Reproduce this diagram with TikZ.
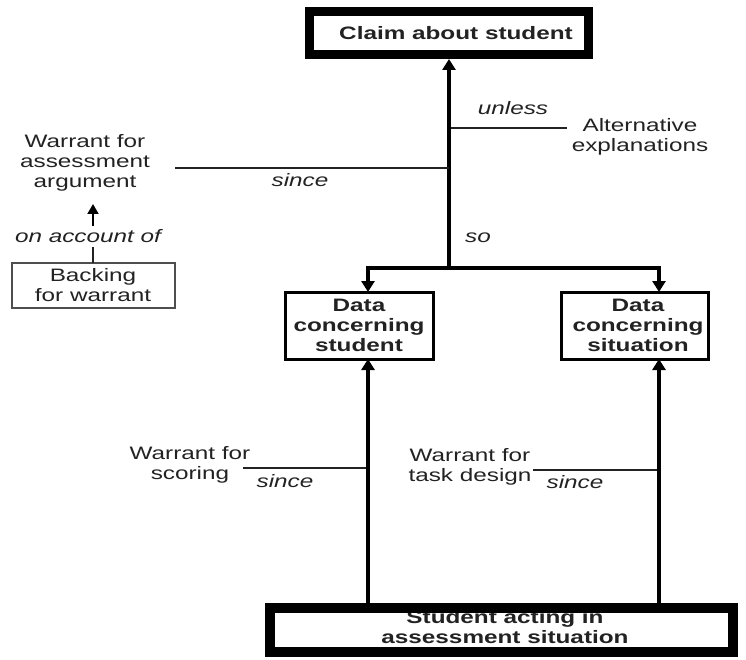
\documentclass[tikz,border=0pt]{standalone}
\usepackage{fontspec}
\setmainfont[FakeStretch=1.35]{Liberation Sans}
\usetikzlibrary{arrows.meta}
\definecolor{ink}{HTML}{222222}
\tikzset{
  txt/.style={text=ink, font=\fontsize{18}{20}\selectfont, align=center, inner sep=0pt},
  btxt/.style={txt, font=\fontsize{18}{20}\selectfont\bfseries},
  itxt/.style={txt, font=\fontsize{18}{20}\selectfont\itshape},
  heavybox/.style={draw=black, line width=9pt, fill=white},
  databox/.style={draw=black, line width=3pt, fill=white},
  thinbox/.style={draw=ink!80, line width=2pt, fill=white},
  mainline/.style={line width=4pt, draw=black},
  mainarrow/.style={mainline, -{Triangle[width=13pt,length=11pt]}},
  warrantline/.style={line width=2pt, draw=ink},
  smallarrow/.style={line width=2pt, draw=black, -{Triangle[width=11pt,length=10pt]}},
}
\begin{document}
\begin{tikzpicture}[x=1pt,y=-1pt]
\useasboundingbox (0,0) rectangle (746,660);

% boxes
\draw[heavybox] (309.5,11.5) rectangle (588.5,54.5);
\node[btxt] (claim) at (456,33) {Claim about student};
\coordinate (claimB) at (449,59);

\draw[databox] (285,292) rectangle (433,359);
\node[btxt] (ds) at (359,325) {Data\\concerning\\student};
\draw[databox] (561,292) rectangle (708,359);
\node[btxt] (dsit) at (638,325) {Data\\concerning\\situation};

\node[btxt] (act) at (505,627) {Student acting in\\assessment situation};
\draw[draw=black, line width=10pt] (270,608) rectangle (733,652);

\draw[thinbox] (12,263) rectangle (175,308);
\node[txt] (back) at (93,285) {Backing\\for warrant};

% junction coordinates
\coordinate (j) at (449,268);
\coordinate (jL) at (368,268);
\coordinate (jR) at (659,268);
\coordinate (dsTop) at (368,292);
\coordinate (dsitTop) at (659,292);
\coordinate (dsBot) at (368,359);
\coordinate (dsitBot) at (659,359);
\coordinate (actL) at (368,603);
\coordinate (actR) at (659,603);

% main structure
\draw[mainarrow] (j) -- (claimB);
\draw[mainline] ([xshift=-2pt]jL) -- ([xshift=2pt]jR);
\draw[mainarrow] (jL) -- (dsTop);
\draw[mainarrow] (jR) -- (dsitTop);
\draw[mainarrow] (actL) -- (dsBot);
\draw[mainarrow] (actR) -- (dsitBot);

% warrant for the assessment argument
\node[txt] (wa) at (85,163) {Warrant for\\assessment\\argument};
\coordinate (waR) at (175,168);
\coordinate (waJ) at (449,168);
\draw[warrantline] (waR) -- (waJ);
\node[itxt] (since1) at (300,180) {since};

\node[itxt] (oao) at (88,236) {on account of};
\coordinate (oaoT) at (93,226);
\coordinate (waB) at (93,204);
\coordinate (oaoB) at (93,247);
\coordinate (backT) at (93,263);
\draw[smallarrow] (oaoT) -- (waB);
\draw[warrantline] (oaoB) -- (backT);

% rebuttal
\node[itxt] (unless) at (513,108) {unless};
\coordinate (unJ) at (451,128);
\coordinate (unR) at (567,128);
\draw[warrantline] (unJ) -- (unR);
\node[txt] (alt) at (640,137) {Alternative\\explanations};

\node[itxt] (so) at (478,238) {so};

% lower warrants
\node[txt] (ws) at (190,465) {Warrant for\\scoring};
\coordinate (wsR) at (243,468);
\coordinate (wsJ) at (366,468);
\draw[warrantline] (wsR) -- (wsJ);
\node[itxt] (since2) at (285,481) {since};

\node[txt] (wt) at (470,467) {Warrant for\\task design};
\coordinate (wtR) at (533,470);
\coordinate (wtJ) at (657,470);
\draw[warrantline] (wtR) -- (wtJ);
\node[itxt] (since3) at (575,482) {since};
\end{tikzpicture}
\end{document}
